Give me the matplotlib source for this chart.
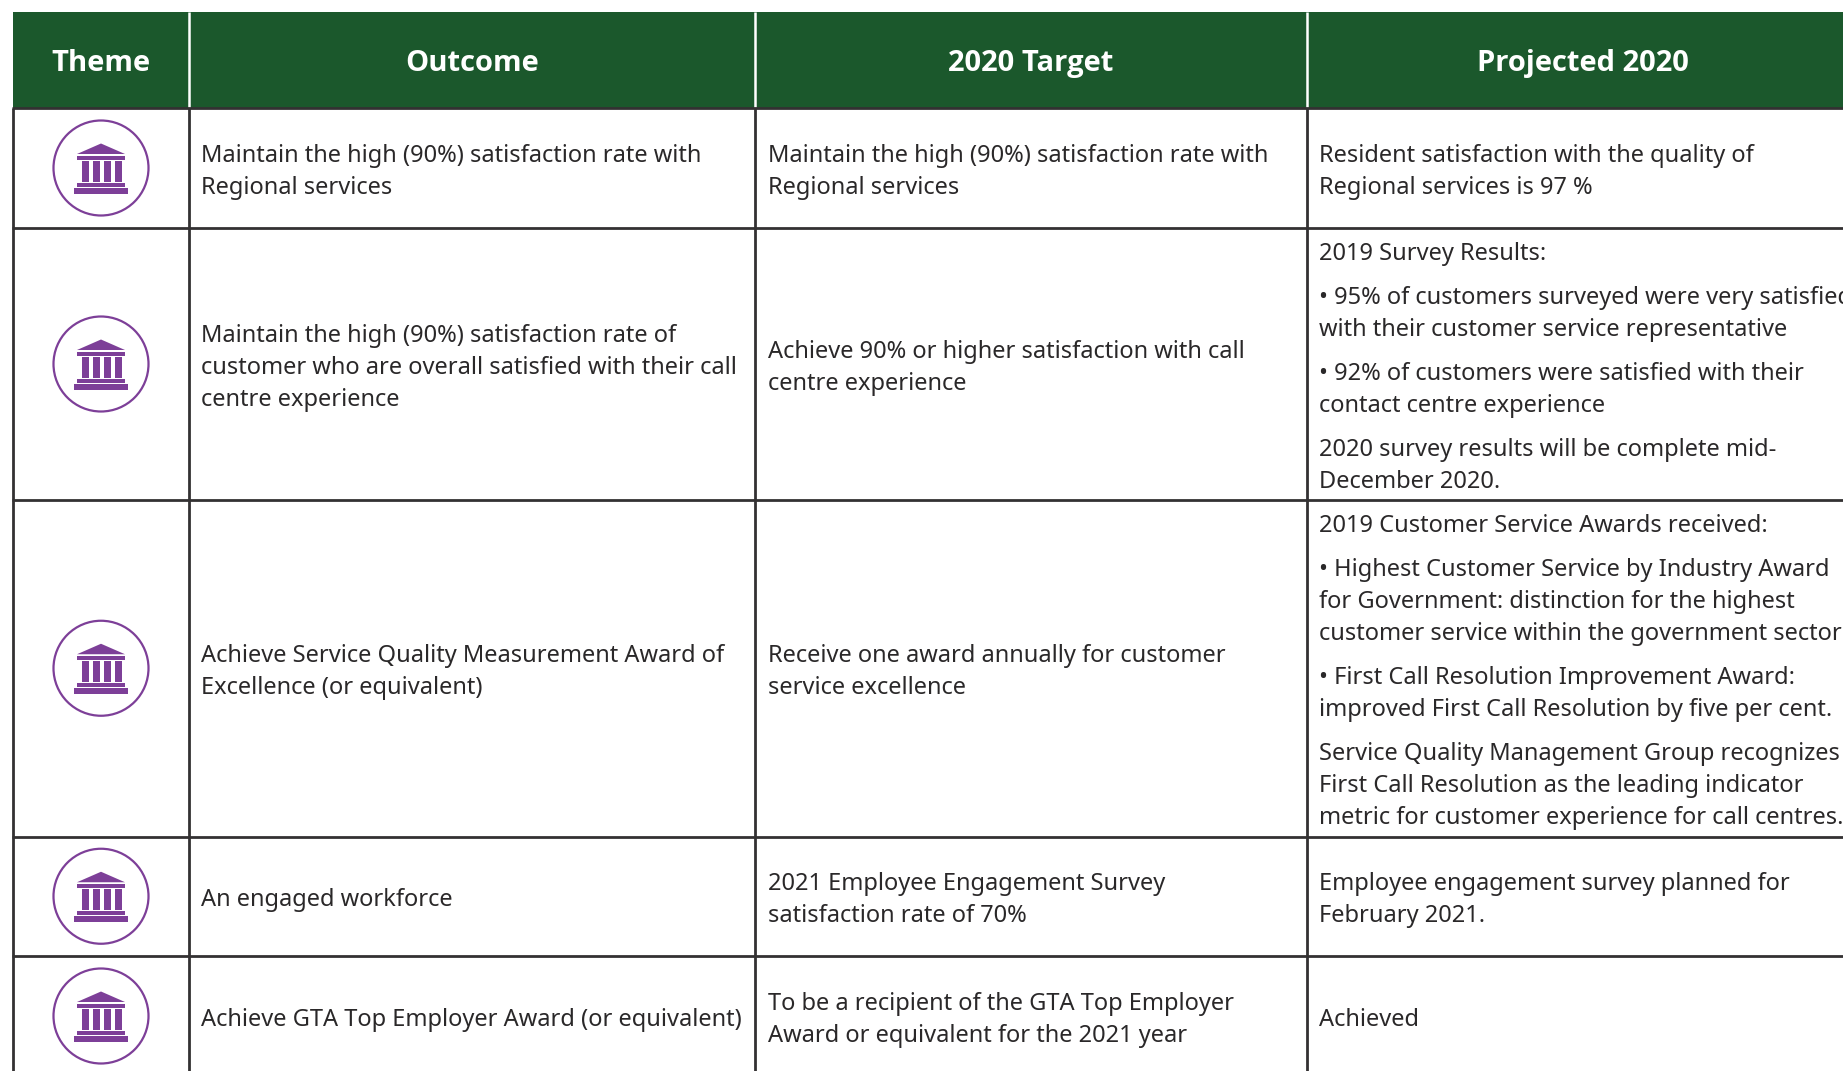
import matplotlib.pyplot as plt
from matplotlib.patches import Circle, Polygon, Rectangle

headers = ['Theme', 'Outcome', '2020 Target', 'Projected 2020']

# each cell is a list of paragraphs, each paragraph a list of lines
outcome = [
    [['Maintain the high (90%) satisfaction rate with', 'Regional services']],
    [['Maintain the high (90%) satisfaction rate of', 'customer who are overall satisfied with their call', 'centre experience']],
    [['Achieve Service Quality Measurement Award of', 'Excellence (or equivalent)']],
    [['An engaged workforce']],
    [['Achieve GTA Top Employer Award (or equivalent)']],
]
target = [
    [['Maintain the high (90%) satisfaction rate with', 'Regional services']],
    [['Achieve 90% or higher satisfaction with call', 'centre experience']],
    [['Receive one award annually for customer', 'service excellence']],
    [['2021 Employee Engagement Survey', 'satisfaction rate of 70%']],
    [['To be a recipient of the GTA Top Employer', 'Award or equivalent for the 2021 year']],
]
projected = [
    [['Resident satisfaction with the quality of', 'Regional services is 97 %']],
    [['2019 Survey Results:'],
     ['• 95% of customers surveyed were very satisfied', 'with their customer service representative'],
     ['• 92% of customers were satisfied with their', 'contact centre experience'],
     ['2020 survey results will be complete mid-', 'December 2020.']],
    [['2019 Customer Service Awards received:'],
     ['• Highest Customer Service by Industry Award', 'for Government: distinction for the highest', 'customer service within the government sector'],
     ['• First Call Resolution Improvement Award:', 'improved First Call Resolution by five per cent.'],
     ['Service Quality Management Group recognizes', 'First Call Resolution as the leading indicator', 'metric for customer experience for call centres.']],
    [['Employee engagement survey planned for', 'February 2021.']],
    [['Achieved']],
]

# pixel layout of the table
col_x = [13, 188.5, 755, 1306.7, 1843]
header_x = [101, 472, 1031, 1583]
row_y = [108, 228, 500, 836.5, 956, 1076]
header_top = 12
green = '#1b582c'
purple = '#7d3f98'
line_col = '#333132'
text_col = '#2a2829'
body_size = 17.0
line_gap = 32
para_gap = 44

plt.rcParams['font.family'] = ['Noto Sans', 'DejaVu Sans']

fig = plt.figure(figsize=(18.43, 10.71), dpi=100)
ax = fig.add_axes([0, 0, 1, 1])
ax.set_xlim(0, 1843)
ax.set_ylim(1071, 0)
ax.axis('off')


def draw_icon(cx, cy):
    # building, in pixels from the centre of the ring
    ax.add_patch(Circle((cx, cy), 47.5, fc='white', ec=purple, lw=1.6))
    ax.add_patch(Polygon([(cx - 24, cy - 14), (cx + 24, cy - 14), (cx, cy - 24.5)], fc=purple, ec='none'))
    boxes = [(-24, -12.5, 48, 4.5), (-24, 15, 48, 3.5), (-27, 19.5, 54, 6)]
    for bx, by, bw, bh in boxes:
        ax.add_patch(Rectangle((cx + bx, cy + by), bw, bh, fc=purple, ec='none'))
    for bx in [-19.5, -8.5, 2.5, 13.5]:
        ax.add_patch(Rectangle((cx + bx, cy - 7.5), 7, 21.5, fc=purple, ec='none'))


def draw_cell(x, cy, paragraphs):
    n_lines = sum(len(p) for p in paragraphs)
    height = (n_lines - len(paragraphs)) * line_gap + (len(paragraphs) - 1) * para_gap
    y = cy + 10 - height / 2
    for para in paragraphs:
        for line in para:
            ax.text(x, y, line, fontsize=body_size, color=text_col, ha='left', va='baseline')
            y += line_gap
        y += para_gap - line_gap


# header band
ax.add_patch(Rectangle((col_x[0], header_top), col_x[-1] - col_x[0], row_y[0] - header_top, fc=green, ec='none'))
for x in col_x[1:-1]:
    ax.plot([x, x], [header_top, row_y[0]], color='white', lw=1.8, solid_capstyle='butt')
for x, name in zip(header_x, headers):
    ax.text(x, 71, name, color='white', fontsize=21, fontweight='bold', family='Open Sans',
            ha='center', va='baseline')

# body
for i in range(len(outcome)):
    cy = (row_y[i] + row_y[i + 1]) / 2
    draw_icon(101, cy)
    draw_cell(201, cy, outcome[i])
    draw_cell(767.5, cy, target[i])
    draw_cell(1319, cy, projected[i])

# grid lines
for y in row_y[:-1]:
    ax.plot([col_x[0] - 1.5, col_x[-1]], [y, y], color=line_col, lw=2.0, solid_capstyle='butt')
for x in col_x[:-1]:
    ax.plot([x, x], [row_y[0], 1071], color=line_col, lw=2.0, solid_capstyle='butt')

fig.savefig('out.png', dpi=100)
plt.close()
